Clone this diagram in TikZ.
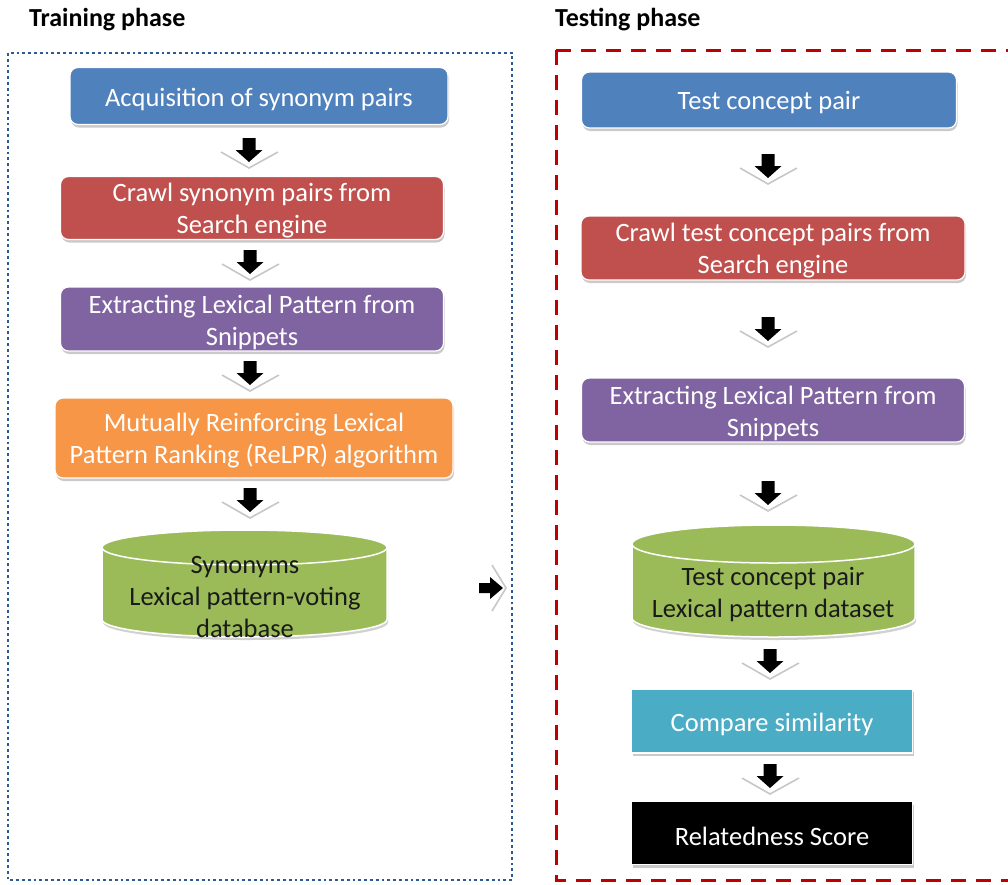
\documentclass[tikz,border=0pt]{standalone}
\usepackage{fontspec}
\setmainfont{Carlito}
\usetikzlibrary{shadows}
\definecolor{cblue}{HTML}{4F81BD}
\definecolor{cred}{HTML}{C0504D}
\definecolor{cpurple}{HTML}{8064A2}
\definecolor{corange}{HTML}{F79646}
\definecolor{cgreen}{HTML}{9BBB59}
\definecolor{cteal}{HTML}{4BACC6}
\definecolor{cframeblue}{HTML}{2B5A94}
\definecolor{cframered}{HTML}{C00000}
\definecolor{cdbtext}{HTML}{1A1A1A}
\newcommand\myDownArr[2]{%
  \draw[chev] (#1-28,#2+2) -- (#1,#2+18) -- (#1+29,#2+2);
  \fill[black] (#1-6.5,#2-12) -- (#1+6.5,#2-12) -- (#1+6.5,#2) -- (#1+13.5,#2)
    -- (#1,#2+12) -- (#1-13.5,#2) -- (#1-6.5,#2) -- cycle;}
\begin{document}
\begin{tikzpicture}[x=1pt,y=-1pt,
  boxfont/.style={font=\fontsize{26.5}{32}\selectfont},
  procbox/.style={rounded corners=8pt, draw=white, line width=1.2pt, inner sep=0pt,
    drop shadow={shadow xshift=1pt, shadow yshift=-3pt, opacity=0.35, fill=black!60}},
  sqbox/.style={procbox, rounded corners=0pt},
  boxtext/.style={boxfont, text=white, align=center, inner sep=0pt},
  cyl/.style={fill=cgreen, draw=white, line width=1.5pt},
  cylshadow/.style={fill=black!60, opacity=0.3},
  dbtext/.style={boxfont, text=cdbtext, align=center, inner sep=0pt},
  chev/.style={draw=black!22, line width=1.6pt},
  title/.style={font=\fontsize{26}{30}\selectfont\bfseries, anchor=west, inner sep=0pt},
  trainframe/.style={draw=cframeblue, line width=2.8pt, dash pattern=on 2.8pt off 3pt},
  testframe/.style={draw=cframered, line width=3pt, dash pattern=on 15pt off 10pt}
]
\useasboundingbox (0,0) rectangle (1008,884);

% titles
\node[title] (ttrain) at (29,20) {Training phase};
\node[title] (ttest) at (555,20) {Testing phase};

% frames
\draw[trainframe] (8,53) rectangle (512,880);
\draw[testframe] (556,50) -- (1015,50);
\draw[testframe] (556,50) -- (556,880) -- (1015,880);

% ---------- training column ----------
\node[procbox, fill=cblue, minimum width=378pt, minimum height=57pt] (a1) at (259,96) {};
\node[boxtext] (a1t) at ([yshift=-3pt]a1.center) {Acquisition of synonym pairs};
\node[procbox, fill=cred, minimum width=383pt, minimum height=63pt] (a2) at (252,208) {};
\node[boxtext] (a2t) at ([yshift=-3pt]a2.center) {Crawl synonym pairs from\\Search engine};
\node[procbox, fill=cpurple, minimum width=383pt, minimum height=64pt] (a3) at (252,319) {};
\node[boxtext] (a3t) at ([yshift=-3pt]a3.center) {Extracting Lexical Pattern from\\Snippets};
\node[procbox, fill=corange, minimum width=398pt, minimum height=80pt] (a4) at (254,438) {};
\node[boxtext] (a4t) at ([yshift=-3pt]a4.center) {Mutually Reinforcing Lexical\\Pattern Ranking (ReLPR) algorithm};

% left cylinder
\fill[cylshadow] (103,550.5) -- (103,622.5) arc[start angle=180, end angle=360, x radius=142.5pt, y radius=17.5pt] -- (388,550.5) -- cycle;
\path[cyl] (102,547.5) -- (102,619.5) arc[start angle=180, end angle=360, x radius=142.5pt, y radius=17.5pt] -- (387,547.5) arc[start angle=0, end angle=180, x radius=142.5pt, y radius=17.5pt] -- cycle;
\path[cyl] (244.5,547.5) ellipse[x radius=142.5pt, y radius=17.5pt];
\node[dbtext] (a5) at (245,597) {Synonyms\\Lexical pattern-voting\\database};

\myDownArr{249}{150}
\myDownArr{250}{262}
\myDownArr{250}{373}
\myDownArr{250}{500}

% right-pointing arrow between phases
\draw[chev] (492,565) -- (506,588) -- (492,611);
\fill[black] (479,583) -- (490,583) -- (490,577) -- (503,588) -- (490,599) -- (490,593) -- (479,593) -- cycle;

% ---------- testing column ----------
\node[procbox, fill=cblue, minimum width=375pt, minimum height=56pt] (b1) at (769,100) {};
\node[boxtext] (b1t) at ([yshift=-3pt]b1.center) {Test concept pair};
\node[procbox, fill=cred, minimum width=384pt, minimum height=64pt] (b2) at (773,248) {};
\node[boxtext] (b2t) at ([yshift=-3pt]b2.center) {Crawl test concept pairs from\\Search engine};
\node[procbox, fill=cpurple, minimum width=383pt, minimum height=64pt] (b3) at (773,410) {};
\node[boxtext] (b3t) at ([yshift=-3pt]b3.center) {Extracting Lexical Pattern from\\Snippets};

% right cylinder
\fill[cylshadow] (633,547) -- (633,621) arc[start angle=180, end angle=360, x radius=141.5pt, y radius=19pt] -- (916,547) -- cycle;
\path[cyl] (632,544) -- (632,618) arc[start angle=180, end angle=360, x radius=141.5pt, y radius=19pt] -- (915,544) arc[start angle=0, end angle=180, x radius=141.5pt, y radius=19pt] -- cycle;
\path[cyl] (773.5,544) ellipse[x radius=141.5pt, y radius=19pt];
\node[dbtext] (b4) at (773,595) {Test concept pair\\Lexical pattern dataset};

\node[sqbox, fill=cteal, minimum width=281pt, minimum height=64pt] (b5) at (772,721) {};
\node[boxtext] (b5t) at ([yshift=-3pt]b5.center) {Compare similarity};
\node[sqbox, fill=black, minimum width=281pt, minimum height=63pt] (b6) at (772,833) {};
\node[boxtext] (b6t) at ([yshift=-3pt]b6.center) {Relatedness Score};

\myDownArr{768}{166}
\myDownArr{768}{329}
\myDownArr{768}{493}
\myDownArr{770}{661}
\myDownArr{770}{776}
\end{tikzpicture}
\end{document}
